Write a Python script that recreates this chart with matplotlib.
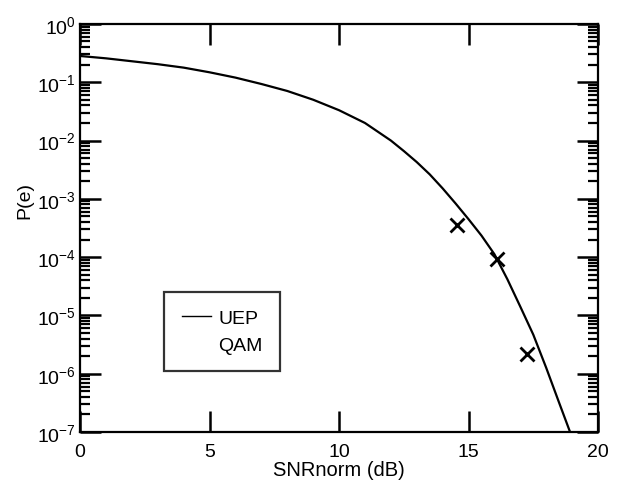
#!/usr/bin/env python3
# plot.py
# UEP error probability curve vs SNRnorm with QAM simulation points.

import matplotlib
matplotlib.use("Agg")
import matplotlib.pyplot as plt
from matplotlib.ticker import LogLocator, NullFormatter, FixedLocator

# DATA
UEP_SNR = [0, 1, 2, 3, 4, 5, 6, 7, 8, 9, 10, 11, 12, 12.5, 13, 13.5, 14,
           14.5, 15, 15.5, 16, 16.5, 17, 17.5, 18, 18.5, 18.92]
UEP_PE = [2.82e-1, 2.57e-1, 2.29e-1, 2.04e-1, 1.78e-1, 1.48e-1, 1.20e-1,
          9.33e-2, 7.08e-2, 5.01e-2, 3.31e-2, 2.00e-2, 1.00e-2, 6.61e-3,
          4.27e-3, 2.63e-3, 1.51e-3, 8.32e-4, 4.47e-4, 2.34e-4, 1.12e-4,
          4.17e-5, 1.41e-5, 4.68e-6, 1.26e-6, 3.16e-7, 1.0e-7]

QAM_SNR = [14.56, 16.1, 17.27]
QAM_PE = [3.5e-4, 9.3e-5, 2.2e-6]

X_TICKS = [0, 5, 10, 15, 20]
LEGEND_LABELS = ["UEP", "QAM"]
X_LABEL = "SNRnorm (dB)"
Y_LABEL = "P(e)"

plt.rcParams["font.family"] = ["Liberation Sans", "DejaVu Sans"]
plt.rcParams["mathtext.fontset"] = "custom"
plt.rcParams["mathtext.rm"] = "Liberation Sans"
plt.rcParams["mathtext.it"] = "Liberation Sans"

fig = plt.figure(figsize=(6.21, 4.89), dpi=100)
ax = fig.add_axes([0.129, 0.1145, 0.834, 0.8345])

uep_line, = ax.plot(UEP_SNR, UEP_PE, color="black", linewidth=1.6)
qam_pts, = ax.plot(QAM_SNR, QAM_PE, linestyle="none", marker="x", color="black",
                   markersize=10, markeredgewidth=2)

ax.set_yscale("log")
ax.set_xlim(0, 20)
ax.set_ylim(1e-7, 1e0)

ax.xaxis.set_major_locator(FixedLocator(X_TICKS))
ax.yaxis.set_major_locator(LogLocator(base=10, numticks=20))
ax.yaxis.set_minor_locator(LogLocator(base=10, subs=range(2, 10), numticks=20))
ax.yaxis.set_minor_formatter(NullFormatter())

ax.tick_params(which="both", direction="in", top=True, right=True, labelsize=14)
ax.tick_params(which="major", length=15, width=1.8)
ax.tick_params(which="minor", length=7, width=1.6)
ax.tick_params(axis="x", pad=8)
ax.tick_params(axis="y", pad=3)
for s in ax.spines.values():
    s.set_linewidth(1.6)

ax.set_xlabel(X_LABEL, fontsize=14.5, labelpad=0)
ax.set_ylabel(Y_LABEL, fontsize=14)
ax.yaxis.set_label_coords(-0.091, 0.57)

leg = ax.legend([uep_line, qam_pts], LEGEND_LABELS, loc="upper left",
                bbox_to_anchor=(0.162, 0.343), fontsize=14, frameon=True,
                fancybox=False, handlelength=1.5, handletextpad=0.4,
                borderpad=0.9, labelspacing=0.45, borderaxespad=0)
leg.get_frame().set_edgecolor("black")
leg.get_frame().set_linewidth(1.6)
leg.legend_handles[1].set_visible(False)
leg.legend_handles[0].set_linewidth(1.0)

fig.savefig("out.png", dpi=100)
plt.close(fig)
